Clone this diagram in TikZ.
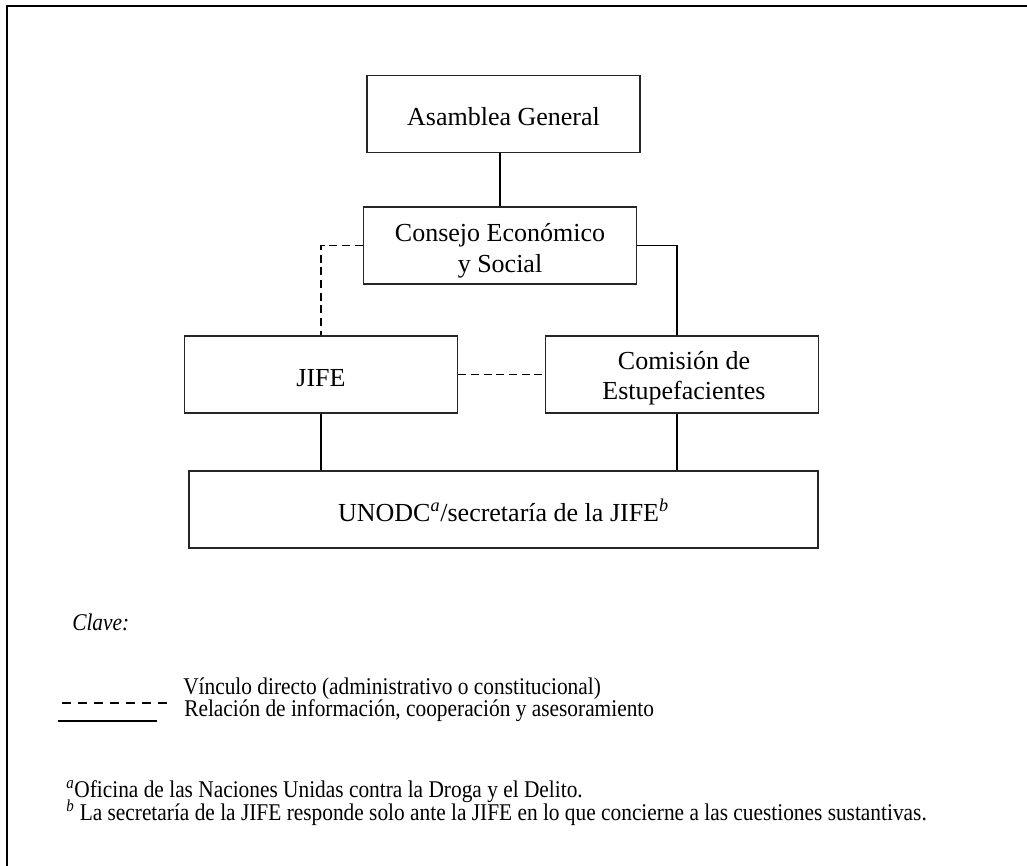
\documentclass[tikz,border=0pt]{standalone}
\usepackage{fontspec}
\setmainfont{Liberation Serif}
\newfontfamily\legfont{Liberation Serif}[FakeStretch=0.89]
\begin{document}
\begin{tikzpicture}[x=0.75pt,y=-0.75pt,
  box/.style={draw=black!85, line width=1.4pt, minimum width=204.75pt, minimum height=57.75pt, inner sep=0pt,
    font=\fontsize{19.5}{22.9}\selectfont},
  oneline/.style={text height=20pt, text depth=2pt},
  boxtext/.style={align=center, inner sep=0pt, font=\fontsize{19.5}{22.9}\selectfont},
  link/.style={line width=1.4pt},
  dlink/.style={line width=1.4pt, dash pattern=on 6pt off 3.5pt},
  leg/.style={inner sep=0pt, font=\legfont\fontsize{18}{21}\selectfont},
  frameline/.style={line width=1.6pt}
]
\useasboundingbox (0,0) rectangle (1027,866);
\coordinate (fr1) at (1027,6);
\coordinate (fr2) at (7,6);
\coordinate (fr3) at (7,866);
\draw[frameline] (fr1) -- (fr2) -- (fr3);

% boxes
\node[box, oneline] (AG) at (503.5,114) {Asamblea General};
\node[box] (CES) at (500,245.5) {};
\node[boxtext] (CEStext) at (500,250.8) {Consejo Económico\\y Social};
\node[box, oneline] (JIFE) at (321,374.5) {JIFE};
\node[box] (COM) at (682,374.5) {};
\node[boxtext] (COMtext) at (684,378.3) {Comisión de\\Estupefacientes};
\node[box, oneline, minimum width=471.75pt] (UN) at (503.5,509.5)
  {UNODC\textsuperscript{\textit{a}}/secretaría de la JIFE\textsuperscript{\textit{b}}};

% connectors
\draw[link] (CES.north) -- (CES.north |- AG.south);
\draw[dlink] (CES.west) -| (JIFE.north);
\draw[link] (CES.east) -| ([xshift=-3.75pt]COM.north);
\draw[dlink] (JIFE.east) -- (COM.west);
\draw[link] (JIFE.south) -- (JIFE.south |- UN.north);
\draw[link] ([xshift=-3.75pt]COM.south) -- ([xshift=-3.75pt]COM.south |- UN.north);

% legend
\node[leg, anchor=base west, font=\legfont\itshape\fontsize{18}{21}\selectfont] (clave) at (72,630) {Clave:};
\coordinate (d1) at (62,703);
\coordinate (d2) at (170,703);
\draw[line width=1.8pt, dash pattern=on 6.75pt off 5.25pt] (d1) -- (d2);
\node[leg, anchor=base west] (l1) at (183,694) {Vínculo directo (administrativo o constitucional)};
\coordinate (s1) at (58,721);
\coordinate (s2) at (157,721);
\draw[line width=1.1pt] (s1) -- (s2);
\node[leg, anchor=base west] (l2) at (184,716) {Relación de información, cooperación y asesoramiento};

% footnotes
\node[leg, anchor=base west] (fa) at (66,797) {\textsuperscript{\textit{a}}Oficina de las Naciones Unidas contra la Droga y el Delito.};
\node[leg, anchor=base west] (fb) at (66,820) {\textsuperscript{\textit{b}} La secretaría de la JIFE responde solo ante la JIFE en lo que concierne a las cuestiones sustantivas.};
\end{tikzpicture}
\end{document}
